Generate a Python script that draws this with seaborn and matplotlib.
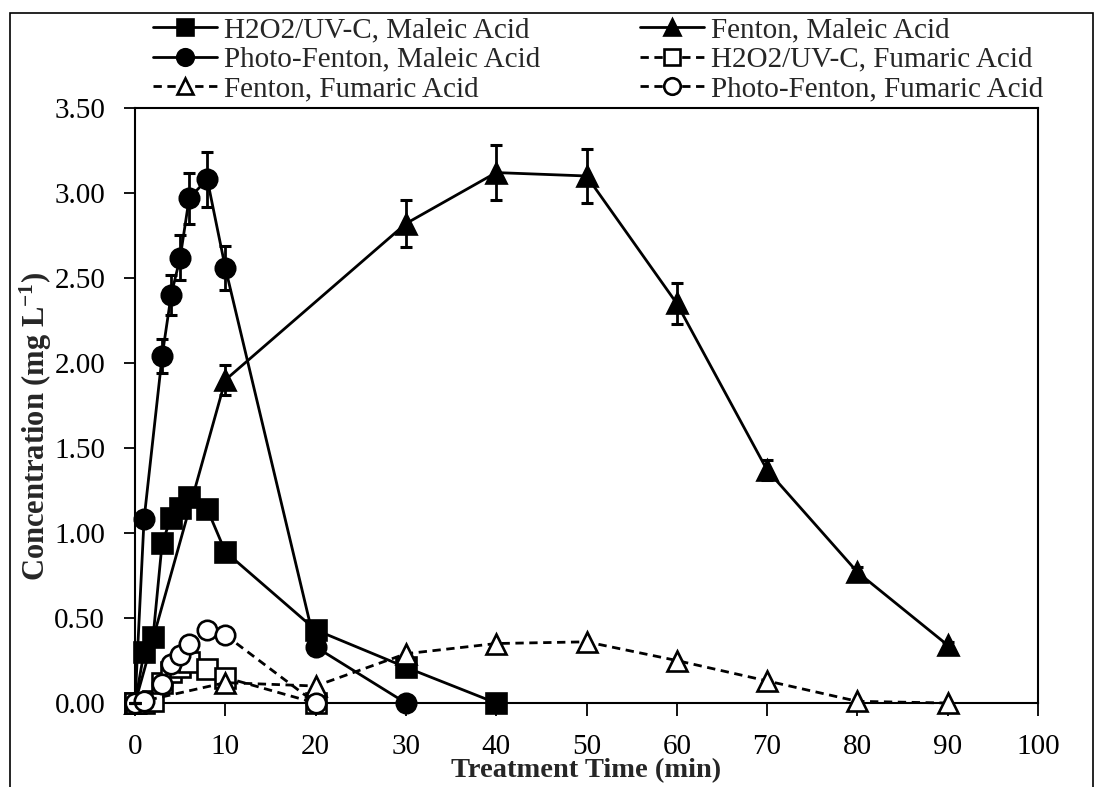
# Import libraries
import matplotlib.pyplot as plt
import matplotlib.ticker as mticker
from matplotlib.patches import Rectangle
import seaborn as sns

# 1. Data (time in min, concentration in mg/L)
t_h2o2_mal = [0, 1, 2, 3, 4, 5, 6, 8, 10, 20, 30, 40]
c_h2o2_mal = [0.00, 0.30, 0.39, 0.94, 1.09, 1.15, 1.21, 1.14, 0.89, 0.43, 0.21, 0.00]

t_fenton_mal = [0, 10, 30, 40, 50, 60, 70, 80, 90]
c_fenton_mal = [0.00, 1.90, 2.82, 3.12, 3.10, 2.35, 1.37, 0.77, 0.34]
e_fenton_mal = [0.00, 0.09, 0.14, 0.16, 0.16, 0.12, 0.06, 0.03, 0.02]

t_pf_mal = [0, 1, 3, 4, 5, 6, 8, 10, 20, 30]
c_pf_mal = [0.00, 1.08, 2.04, 2.40, 2.62, 2.97, 3.08, 2.56, 0.33, 0.00]
e_pf_mal = [0.00, 0.03, 0.10, 0.12, 0.13, 0.15, 0.16, 0.13, 0.02, 0.00]

t_h2o2_fum = [0, 1, 2, 3, 4, 5, 6, 8, 10, 20]
c_h2o2_fum = [0.00, 0.00, 0.01, 0.12, 0.18, 0.21, 0.24, 0.20, 0.15, 0.00]

t_fenton_fum = [0, 10, 20, 30, 40, 50, 60, 70, 80, 90]
c_fenton_fum = [0.00, 0.12, 0.10, 0.29, 0.35, 0.36, 0.25, 0.13, 0.01, 0.00]

t_pf_fum = [0, 1, 3, 4, 5, 6, 8, 10, 20]
c_pf_fum = [0.00, 0.01, 0.11, 0.23, 0.28, 0.35, 0.43, 0.40, 0.00]

x_ticks = [0, 10, 20, 30, 40, 50, 60, 70, 80, 90, 100]
y_ticks = [0.0, 0.5, 1.0, 1.5, 2.0, 2.5, 3.0, 3.5]

# 2. Style
sns.set_style("ticks")
plt.rcParams["font.family"] = ["Liberation Serif", "DejaVu Serif"]
plt.rcParams["mathtext.fontset"] = "custom"
plt.rcParams["mathtext.rm"] = "Liberation Serif"
plt.rcParams["mathtext.bf"] = "Liberation Serif:bold"
plt.rcParams["mathtext.default"] = "bf"

fig = plt.figure(figsize=(10.96, 7.87), dpi=100)
ax = fig.add_axes([0.1232, 0.1067, 0.8239, 0.7561])

dashed = (0, (3, 2))
series = [
    (t_h2o2_mal, c_h2o2_mal, "H2O2/UV-C, Maleic Acid", "s", "black", "-"),
    (t_fenton_mal, c_fenton_mal, "Fenton, Maleic Acid", "^", "black", "-"),
    (t_pf_mal, c_pf_mal, "Photo-Fenton, Maleic Acid", "o", "black", "-"),
    (t_h2o2_fum, c_h2o2_fum, "H2O2/UV-C, Fumaric Acid", "s", "white", dashed),
    (t_fenton_fum, c_fenton_fum, "Fenton, Fumaric Acid", "^", "white", dashed),
    (t_pf_fum, c_pf_fum, "Photo-Fenton, Fumaric Acid", "o", "white", dashed),
]

# 3. Lines with markers
for t, c, name, mk, face, ls in series:
    sns.lineplot(
        x=t,
        y=c,
        ax=ax,
        color="black",
        linestyle=ls,
        linewidth=2.0,
        marker=mk,
        markersize=14,
        markerfacecolor=face,
        markeredgecolor="black",
        markeredgewidth=1.9,
        label=name,
        legend=False,
        clip_on=False,
        zorder=3
    )

# error bars on the maleic acid series
for t, c, e in [(t_fenton_mal, c_fenton_mal, e_fenton_mal),
                (t_pf_mal, c_pf_mal, e_pf_mal)]:
    ax.errorbar(t, c, yerr=e, fmt="none", ecolor="black",
                elinewidth=2.0, capsize=4.5, capthick=2.2,
                zorder=4, clip_on=False)

# 4. Axes
ax.set_xlim(0, 100)
ax.set_ylim(0, 3.5)
ax.set_xticks(x_ticks)
ax.set_yticks(y_ticks)
ax.yaxis.set_major_formatter(mticker.FormatStrFormatter("%.2f"))
ax.tick_params(axis="y", direction="out", length=8, width=1.3,
               pad=13.5, labelsize=21, right=False, colors="black")
ax.tick_params(axis="x", direction="out", length=9, width=1.3,
               pad=13, labelsize=21, top=False, colors="black")
for side in ["left", "right", "top", "bottom"]:
    ax.spines[side].set_visible(True)
    ax.spines[side].set_color("black")
    ax.spines[side].set_linewidth(1.5)

ax.set_xlabel("Treatment Time (min)", fontsize=20.5, fontweight="bold")
ax.xaxis.set_label_coords(0.5, -0.092)
ax.set_ylabel(r"Concentration (mg L$^{-1}$)", fontsize=22, fontweight="bold")
ax.yaxis.set_label_coords(-0.09, 0.465)

# 5. Legend above the plot, row order like the original
handles, labels = ax.get_legend_handles_labels()
order = [0, 2, 4, 1, 3, 5]
fig.legend(
    [handles[i] for i in order],
    [labels[i] for i in order],
    ncol=2,
    loc="upper left",
    bbox_to_anchor=(153 / 1096, 1 - 17 / 787),
    frameon=False,
    fontsize=21,
    handlelength=2.2,
    handletextpad=0.25,
    columnspacing=3.4,
    labelspacing=0.1,
    borderpad=0,
    borderaxespad=0,
    markerscale=0.85
)

# chart area border
fig.add_artist(Rectangle((10 / 1096, -0.02), (1093 - 10) / 1096, 1 - 13 / 787 + 0.02,
                         transform=fig.transFigure, fill=False,
                         edgecolor="black", linewidth=1.2))

fig.savefig("out.png", dpi=100)
